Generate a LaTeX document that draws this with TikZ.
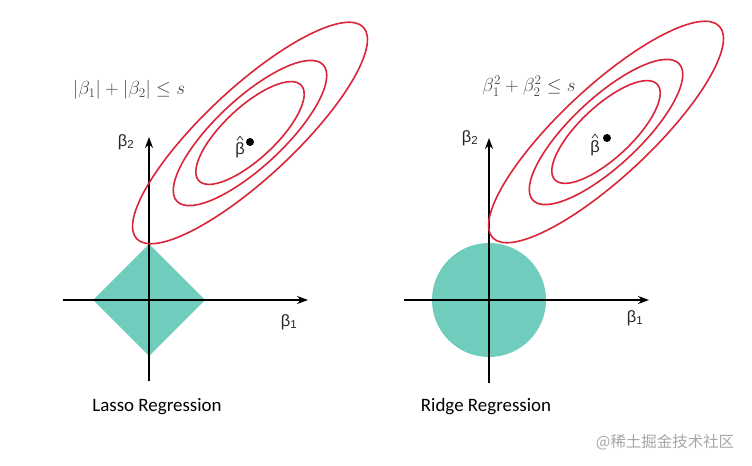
\documentclass[tikz,border=0pt]{standalone}
\usepackage{amsmath,amssymb}
\usepackage{fontspec}
\usepackage{tikz}
\usetikzlibrary{positioning,arrows.meta,calc}
\usepackage{xcolor}
\newfontfamily\captionfont{Carlito}
\newfontfamily\betafont{Liberation Sans}
\newfontfamily\cjkfont{Noto Sans CJK SC}
\definecolor{ballteal}{RGB}{112,205,189}
\definecolor{rssred}{RGB}{218,36,56}
\definecolor{eqgray}{RGB}{70,70,70}

\tikzset{
  axisline/.style={line width=1.7bp,-{Stealth[length=11bp,width=8bp]}},
  rsscurve/.style={rssred,line width=1.6bp},
  axislabel/.style={font=\betafont\fontsize{16.5}{18}\selectfont,text=black!85,inner sep=0pt},
  hatmark/.style={line width=0.7bp,black!85},
  eqlabel/.style={font=\fontsize{17.28}{20}\selectfont,scale=1.1,text=eqgray,inner sep=1bp},
  panelname/.style={font=\captionfont\fontsize{19}{22}\selectfont,inner sep=0pt}
}

\begin{document}
\begin{tikzpicture}[x=1bp,y=-1bp]
\useasboundingbox (0,0) rectangle (752,466);
% Lasso
\coordinate (lo) at (149,300);
\coordinate (lxs) at (63,300);
\coordinate (lxe) at (308,300);
\coordinate (lys) at (149,381);
\coordinate (lye) at (149,137);
\coordinate (lc) at (250,133);
\fill[ballteal] (93,300) -- (149,244) -- (205,300) -- (149,356) -- cycle;
\draw[axisline] (lxs) -- (lxe);
\draw[axisline] (lys) -- (lye);
\draw[rsscurve,rotate around={43:(lc)}] (lc) ellipse [x radius=155,y radius=45];
\draw[rsscurve,rotate around={43:(lc)}] (lc) ellipse [x radius=100,y radius=34];
\draw[rsscurve,rotate around={43:(lc)}] (lc) ellipse [x radius=70,y radius=26];
\fill (250,142) circle (4);
\node[axislabel] (lbhat) at (240,150) {β};
\draw[hatmark] ($(lbhat.north)+(-3,-2)$) -- ++(3,-4) -- ++(3,4);
\node[axislabel] (lb2) at (126,142) {β\textsubscript{2}};
\node[axislabel] (lb1) at (289,322) {β\textsubscript{1}};
\node[eqlabel] (lcons) at (129,90) {$|\beta_1|+|\beta_2|\le s$};
\node[panelname] (lasso) at (157,407) {Lasso Regression};
% Ridge
\coordinate (ro) at (489,300);
\coordinate (rxs) at (404,300);
\coordinate (rxe) at (649,300);
\coordinate (rys) at (489,383);
\coordinate (rye) at (489,138);
\coordinate (rc) at (606,132);
\fill[ballteal] (ro) circle (57);
\draw[axisline] (rxs) -- (rxe);
\draw[axisline] (rys) -- (rye);
\draw[rsscurve,rotate around={43:(rc)}] (rc) ellipse [x radius=155,y radius=45];
\draw[rsscurve,rotate around={43:(rc)}] (rc) ellipse [x radius=100,y radius=34];
\draw[rsscurve,rotate around={43:(rc)}] (rc) ellipse [x radius=70,y radius=26];
\fill (607,138) circle (4);
\node[axislabel] (rbhat) at (595,148) {β};
\draw[hatmark] ($(rbhat.north)+(-3,-2)$) -- ++(3,-4) -- ++(3,4);
\node[axislabel] (rb2) at (470,138) {β\textsubscript{2}};
\node[axislabel] (rb1) at (635,318) {β\textsubscript{1}};
\node[eqlabel,fill=white] (rcons) at (529,86) {$\beta_1^2+\beta_2^2\le s$};
\node[panelname] (ridge) at (486,407) {Ridge Regression};
\node[font=\cjkfont\fontsize{15.5}{17}\selectfont,text=black!35,inner sep=0pt] (mark) at (665,442) {@稀土掘金技术社区};
\end{tikzpicture}
\end{document}
